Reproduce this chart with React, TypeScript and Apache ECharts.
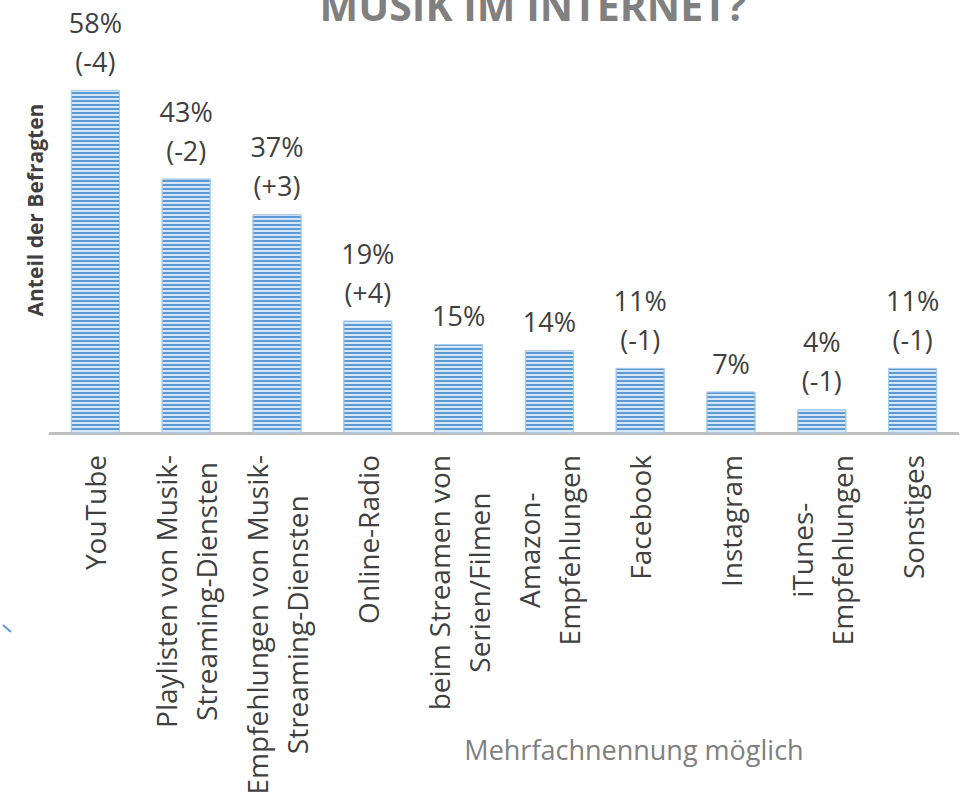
import React, { useEffect, useRef } from "react";
import * as echarts from "echarts";

const categories = [
  "YouTube",
  "Playlisten von Musik-\nStreaming-Diensten",
  "Empfehlungen von Musik-\nStreaming-Diensten",
  "Online-Radio",
  "beim Streamen von\nSerien/Filmen",
  "Amazon-\nEmpfehlungen",
  "Facebook",
  "Instagram",
  "iTunes-\nEmpfehlungen",
  "Sonstiges",
];
const shares = [58, 43, 37, 19, 15, 14, 11, 7, 4, 11];
const changes: (string | null)[] = ["-4", "-2", "+3", "+4", null, null, "-1", null, "-1", "-1"];

const titleText = "MUSIK IM INTERNET?";
const yName = "Anteil der Befragten";
const noteText = "Mehrfachnennung möglich";

const FONT = "'Open Sans', sans-serif";

export default function App() {
  const ref = useRef<HTMLDivElement>(null);
  useEffect(() => {
    if (!ref.current) return;
    const chart = echarts.init(ref.current, null, { renderer: "svg" });
    chart.setOption({
      animation: false,
      backgroundColor: "#ffffff",
      grid: { left: 50, right: 9, top: 84, bottom: 361, outerBoundsMode: "none", containLabel: false },
      xAxis: {
        type: "category",
        data: categories,
        axisTick: { show: false },
        axisLine: { lineStyle: { color: "#bfbfbf", width: 3 } },
        axisLabel: {
          interval: 0,
          rotate: 90,
          margin: 22,
          color: "#404040",
          fontFamily: FONT,
          fontSize: 28,
          lineHeight: 40,
          formatter: (v: string) =>
            v
              .split("\n")
              .map((l) => `{c|${l}}`)
              .join("\n"),
          rich: {
            c: {
              align: "center",
              color: "#404040",
              fontFamily: FONT,
              fontSize: 28,
              lineHeight: 40,
            },
          },
        },
      },
      yAxis: {
        type: "value",
        min: 0,
        max: 59,
        show: false,
        splitLine: { show: false },
      },
      series: [
        {
          type: "bar",
          data: shares,
          barCategoryGap: "46%",
          itemStyle: {
            color: "#d6e6f6",
            borderColor: "#a9cbea",
            borderWidth: 1,
            decal: {
              symbol: "rect",
              symbolSize: 1,
              color: "#5b9bd5",
              dashArrayX: [1, 0],
              dashArrayY: [2, 2],
              rotation: 0,
            },
          },
          label: {
            show: true,
            position: "top",
            distance: 9,
            color: "#404040",
            fontFamily: FONT,
            fontSize: 27,
            lineHeight: 39,
            formatter: (p: any) => {
              const c = changes[p.dataIndex];
              return c ? `${shares[p.dataIndex]}%\n(${c})` : `${shares[p.dataIndex]}%`;
            },
          },
        },
      ],
      graphic: [
        {
          type: "text",
          x: 533,
          y: 5,
          style: {
            text: titleText,
            fill: "#808080",
            font: `bold 41px ${FONT}`,
            align: "center",
            verticalAlign: "middle",
          },
        },
        {
          type: "text",
          x: 35,
          y: 210,
          rotation: Math.PI / 2,
          style: {
            text: yName,
            fill: "#404040",
            font: `bold 21px ${FONT}`,
            align: "center",
            verticalAlign: "middle",
          },
        },
        {
          type: "text",
          x: 634,
          y: 749,
          style: {
            text: noteText,
            fill: "#808080",
            font: `27px ${FONT}`,
            align: "center",
            verticalAlign: "middle",
          },
        },
        {
          type: "line",
          shape: { x1: 3, y1: 625, x2: 11, y2: 632 },
          style: { stroke: "#5b9bd5", lineWidth: 2 },
        },
      ],
    });
    return () => chart.dispose();
  }, []);
  return (
    <div
      ref={ref}
      style={{ position: "fixed", left: 0, top: 0, width: 967, height: 794 }}
    />
  );
}
